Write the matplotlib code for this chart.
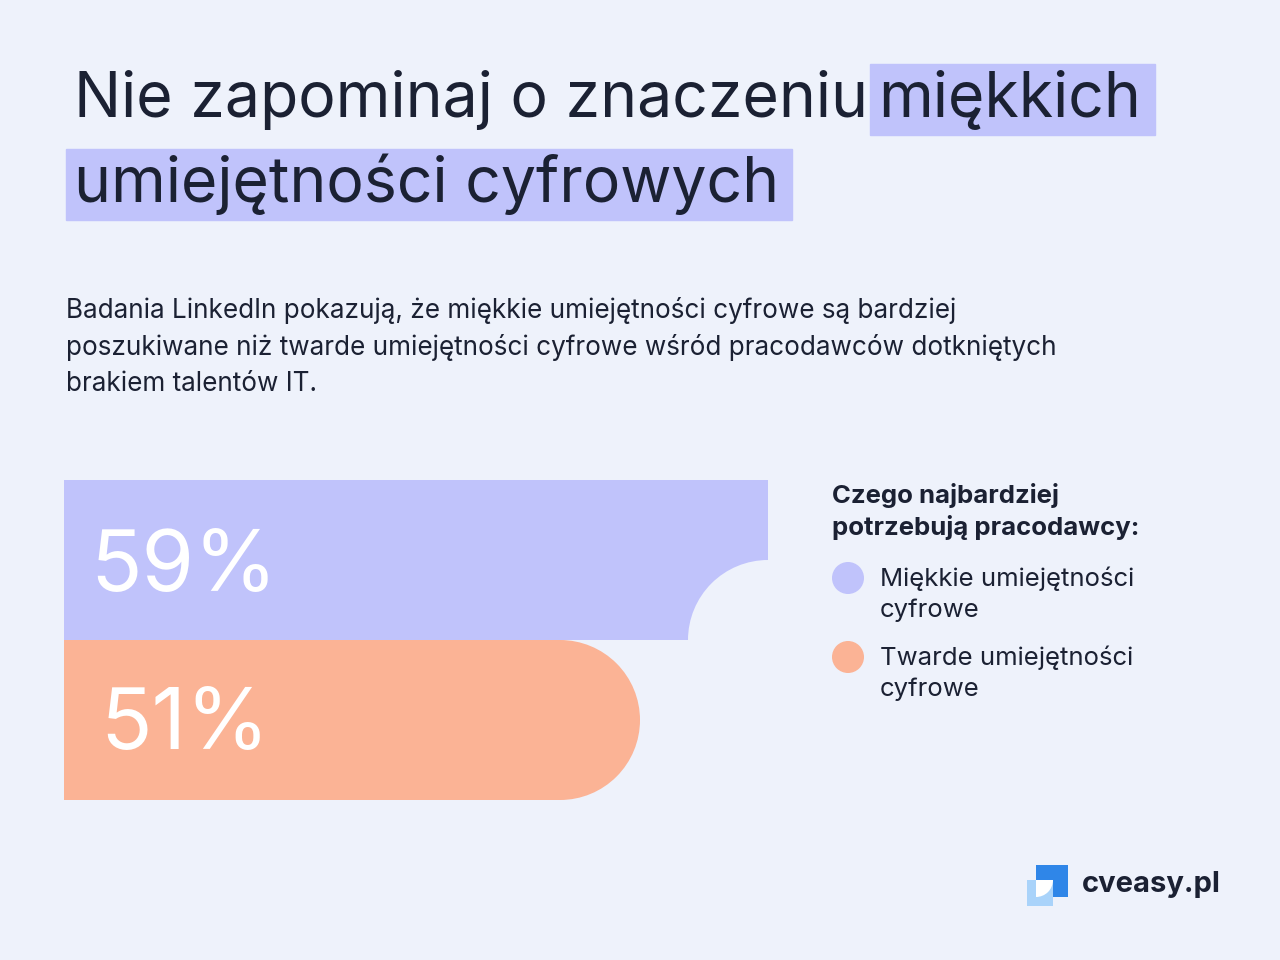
import matplotlib.pyplot as plt
from matplotlib.patches import Rectangle, Circle, Wedge

BG = "#eef2fb"
DARK = "#1b2133"
LILAC = "#c0c3fb"
PEACH = "#fbb395"

categories = ["Miękkie umiejętności\ncyfrowe", "Twarde umiejętności\ncyfrowe"]
values = [59, 51]
labels = ["59%", "51%"]
colors = [LILAC, PEACH]

fig = plt.figure(figsize=(12.8, 9.6), dpi=100, facecolor=BG)
ax = fig.add_axes([0, 0, 1, 1])
ax.set_xlim(0, 1280)
ax.set_ylim(960, 0)
ax.axis("off")
ax.set_facecolor(BG)

FONT = "Inter"

# title with highlight boxes
ax.add_patch(Rectangle((870, 64), 285, 71, color=LILAC, zorder=0))
ax.add_patch(Rectangle((66, 149), 726, 71, color=LILAC, zorder=0))
ax.text(74, 100, "Nie zapominaj o znaczeniu", fontsize=45, color=DARK,
        family=FONT, va="center")
ax.text(878, 100, "miękkich", fontsize=45, color=DARK,
        family=FONT, va="center")
ax.text(74, 184, "umiejętności cyfrowych", fontsize=45, color=DARK,
        family=FONT, va="center")

ax.text(66, 347,
        "Badania LinkedIn pokazują, że miękkie umiejętności cyfrowe są bardziej\n"
        "poszukiwane niż twarde umiejętności cyfrowe wśród pracodawców dotkniętych\n"
        "brakiem talentów IT.",
        fontsize=18.8, color=DARK, family=FONT, va="center", linespacing=1.5)

# bars: the value axis starts at 15% (x0) with 16 px per percentage point
x0, bar_h, r = 64, 160, 80
v0, scale = 15, 16
top_end = x0 + (values[0] - v0) * scale
ax.add_patch(Rectangle((x0, 480), top_end - x0, bar_h, color=colors[0], lw=0))
ax.add_patch(Circle((top_end, 640), r, color=BG, lw=0))
bot_end = x0 + (values[1] - v0) * scale
ax.add_patch(Rectangle((x0, 640), bot_end - x0 - r, bar_h, color=colors[1], lw=0))
ax.add_patch(Circle((bot_end - r, 720), r, color=colors[1], lw=0))

ax.text(90, 568, labels[0], fontsize=61, color="white", family=FONT,
        va="center")
ax.text(100, 726, labels[1], fontsize=61, color="white", family=FONT,
        va="center")

# legend
ax.text(832, 511, "Czego najbardziej\npotrzebują pracodawcy:", fontsize=18.5,
        color=DARK, family=FONT, weight="bold", va="center", linespacing=1.35)
for i, (cat, c) in enumerate(zip(categories, colors)):
    y = 578 + i * 79
    ax.add_patch(Circle((848, y), 16, color=c, lw=0))
    ax.text(880, y + 16, cat, fontsize=18.5, color=DARK, family=FONT,
            va="center", linespacing=1.4)

# logo
ax.add_patch(Rectangle((1036, 865), 32, 32, color="#2f86e8", lw=0))
ax.add_patch(Rectangle((1027, 880), 26, 26, color="#a9d3fa", lw=0))
ax.add_patch(Wedge((1036, 880), 17, 0, 90, color="white", lw=0))
ax.text(1082, 885, "cveasy.pl", fontsize=21, color=DARK, family=FONT,
        weight="bold", va="center")

fig.savefig("out.png", dpi=100, facecolor=BG)
